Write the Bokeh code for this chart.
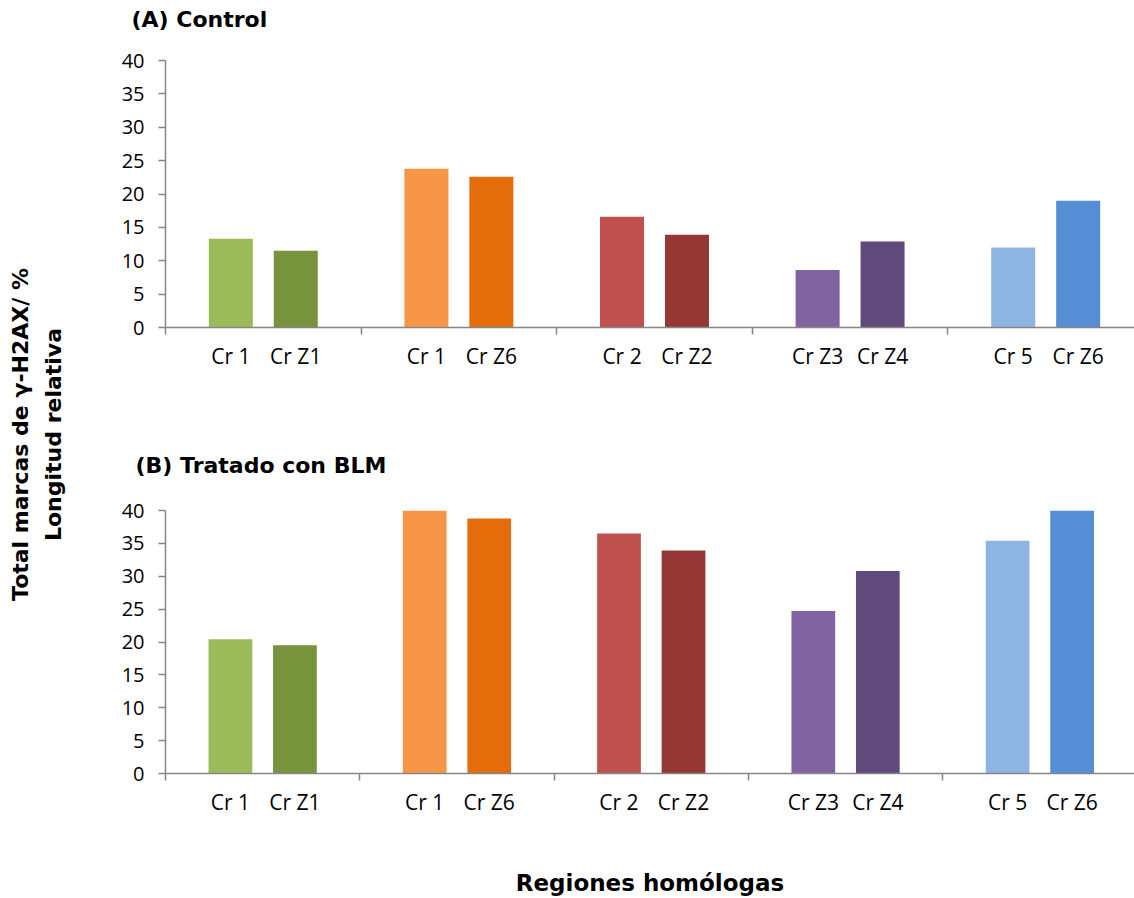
import math
from bokeh.plotting import figure
from bokeh.layouts import row, column
from bokeh.models import (Range1d, FixedTicker, CustomJSTickFormatter, Label,
                          Title)
from bokeh.embed import file_html
from bokeh.resources import INLINE

# ---------------- data ----------------
categories = ["Cr 1", "Cr Z1", "Cr 1", "Cr Z6", "Cr 2", "Cr Z2",
              "Cr Z3", "Cr Z4", "Cr 5", "Cr Z6"]
group_index = [0, 0, 1, 1, 2, 2, 3, 3, 4, 4]
slot_in_group = [0, 1, 0, 1, 0, 1, 0, 1, 0, 1]
control_values = [13.3, 11.5, 23.8, 22.6, 16.6, 13.9, 8.6, 12.9, 12.0, 19.0]
blm_values = [20.4, 19.5, 40.0, 38.8, 36.5, 33.9, 24.7, 30.8, 35.4, 40.0]
bar_colors = ["#9BBB59", "#77933C", "#F79646", "#E46C0A", "#C0504D",
              "#953735", "#8064A2", "#604A7B", "#8EB4E3", "#558ED5"]
y_tick_values = [0, 5, 10, 15, 20, 25, 30, 35, 40]
panel_titles = ["(A) Control", "(B) Tratado con BLM"]
y_title_lines = ["Total marcas de \u03b3-H2AX/ %", "Longitud relativa"]
x_title = "Regiones homólogas"

# ---------------- style / layout ----------------
SLOT_OFFSETS = [0.334, 0.666]
BAR_WIDTH = 0.225
AXIS_COLOR = "#868686"
BOLD_FONT = "DejaVu Sans"
TICK_FONT = "Open Sans"

x_pos = [g + SLOT_OFFSETS[s] for g, s in zip(group_index, slot_in_group)]
group_bounds = list(range(0, 6))

LEFT_W = 108
MAIN_W = 1026
FRAME_LEFT = 57


def blank_fig(width, height, **kw):
    f = figure(width=width, height=height, output_backend="svg",
               toolbar_location=None, x_range=Range1d(0, 1),
               y_range=Range1d(0, 1), **kw)
    f.axis.visible = False
    f.grid.visible = False
    f.outline_line_color = None
    return f


def title_fig(text, height, offset, standoff):
    f = blank_fig(MAIN_W, height, min_border_left=FRAME_LEFT,
                  min_border_right=0, min_border_top=0, min_border_bottom=0)
    f.title = Title(text=text, align="left", offset=offset,
                    standoff=standoff, vertical_align="bottom",
                    text_font=BOLD_FONT, text_font_style="bold",
                    text_font_size="22px", text_color="#000000")
    return f


def make_panel(values, height, b_top, b_bottom, x_end):
    p = figure(width=MAIN_W, height=height, output_backend="svg",
               toolbar_location=None, x_range=Range1d(0, x_end),
               y_range=Range1d(0, 40), min_border_top=b_top,
               min_border_bottom=b_bottom, min_border_left=FRAME_LEFT,
               min_border_right=0)
    p.outline_line_color = None
    p.grid.visible = False
    p.background_fill_color = "white"
    p.border_fill_color = "white"

    p.vbar(x=x_pos, top=values, bottom=0, width=BAR_WIDTH,
           fill_color=bar_colors, line_color=None)

    # x axis
    xa = p.xaxis[0]
    xa.ticker = FixedTicker(ticks=x_pos, minor_ticks=group_bounds)
    xa.formatter = CustomJSTickFormatter(
        args=dict(centers=x_pos, labels=categories),
        code="""
        for (let i = 0; i < centers.length; i++) {
            if (Math.abs(centers[i] - tick) < 1e-6) { return labels[i]; }
        }
        return "";
        """)
    xa.axis_line_color = AXIS_COLOR
    xa.axis_line_width = 1.5
    xa.major_tick_out = 0
    xa.major_tick_in = 0
    xa.minor_tick_out = 7
    xa.minor_tick_in = 0
    xa.minor_tick_line_color = AXIS_COLOR
    xa.minor_tick_line_width = 1.5
    xa.major_label_text_font = TICK_FONT
    xa.major_label_text_font_size = "21px"
    xa.major_label_text_color = "#000000"
    xa.major_label_standoff = 7

    # y axis
    ya = p.yaxis[0]
    ya.ticker = FixedTicker(ticks=y_tick_values)
    ya.axis_line_color = AXIS_COLOR
    ya.axis_line_width = 1.5
    ya.major_tick_line_color = AXIS_COLOR
    ya.major_tick_line_width = 1.5
    ya.major_tick_out = 7
    ya.major_tick_in = 0
    ya.minor_tick_line_color = None
    ya.major_label_text_font = TICK_FONT
    ya.major_label_text_font_size = "20px"
    ya.major_label_text_color = "#000000"
    ya.major_label_standoff = 14
    return p


title_a = title_fig(panel_titles[0], 40, offset=-34, standoff=9)
top = make_panel(control_values, height=410, b_top=20, b_bottom=123,
                 x_end=4.954)
title_b = title_fig(panel_titles[1], 40, offset=-30, standoff=0)
bottom = make_panel(blm_values, height=408, b_top=20, b_bottom=124,
                    x_end=4.987)

bxa = bottom.xaxis[0]
bxa.axis_label = x_title
bxa.axis_label_text_font = BOLD_FONT
bxa.axis_label_text_font_style = "bold"
bxa.axis_label_text_font_size = "23px"
bxa.axis_label_text_color = "#000000"
bxa.axis_label_standoff = 51

# left label panel (shared y-axis title)
lf = blank_fig(LEFT_W, 898, min_border=0)
for line, lx in zip(y_title_lines, [20, 53]):
    lf.add_layout(Label(x=lx, y=464, x_units="screen", y_units="screen",
                        text=line, angle=math.pi / 2, text_font=BOLD_FONT,
                        text_font_style="bold", text_font_size="22px",
                        text_color="#000000", text_align="center",
                        text_baseline="middle"))

layout = row(lf, column(title_a, top, title_b, bottom))

open("out.html", "w").write(file_html(layout, INLINE))
